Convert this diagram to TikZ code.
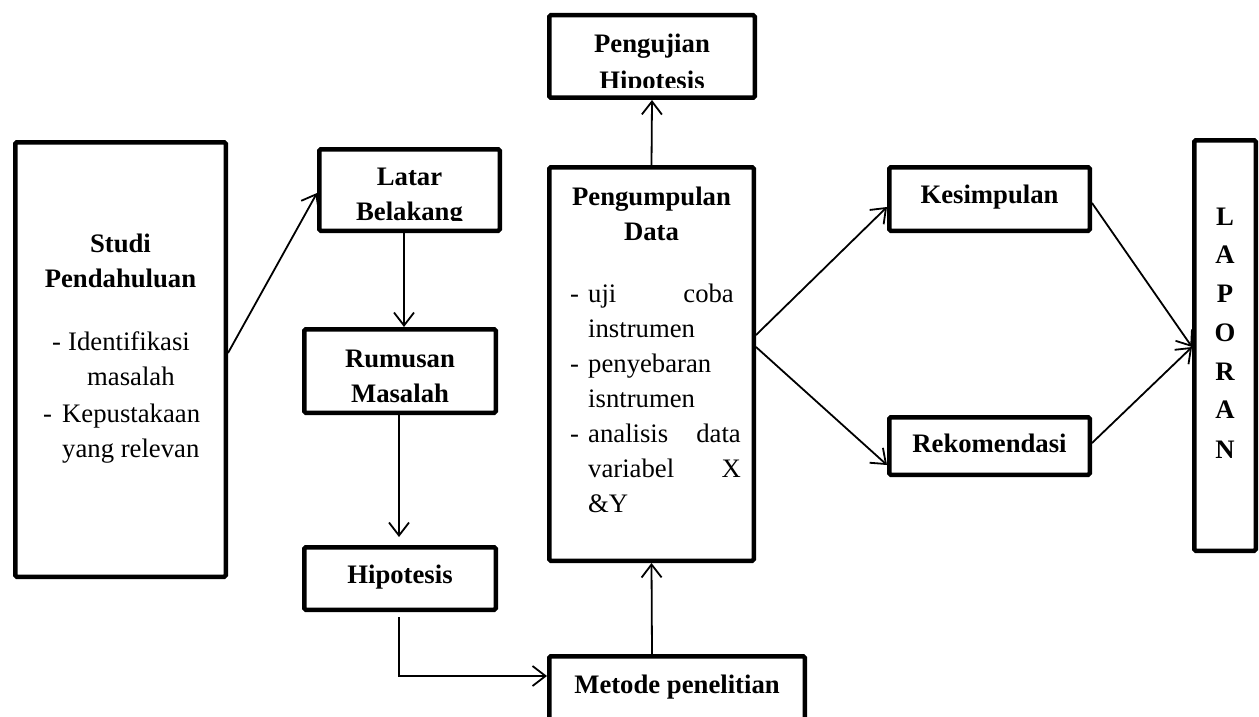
\documentclass[tikz,border=0pt]{standalone}
\usepackage{fontspec}
\setmainfont{Liberation Serif}
\usetikzlibrary{arrows.meta}
\newcommand\dgfont{\fontsize{26.7}{35}\selectfont}
\tikzset{
  box/.style={draw, line width=4.5pt, rounded corners=1.5pt, inner sep=0pt},
  arr/.style={-{Straight Barb[length=13pt,width=20pt]}, line width=1.8pt},
  txt/.style={inner sep=0pt, anchor=base, font=\dgfont},
  txtb/.style={inner sep=0pt, anchor=base, font=\dgfont\bfseries},
  txtw/.style={inner sep=0pt, anchor=base west, font=\dgfont},
  txte/.style={inner sep=0pt, anchor=base east, font=\dgfont},
}
\begin{document}
\begin{tikzpicture}[x=1pt,y=-1pt]
\useasboundingbox (0,0) rectangle (1259,717);
\clip (0,0) rectangle (1259,717);

% boxes
\node[box, minimum width=210.5pt, minimum height=434.5pt] (studi) at (120.5,359.5) {};
\node[box, minimum width=180.5pt, minimum height=81.5pt] (latar) at (409.5,190) {};
\node[box, minimum width=191.5pt, minimum height=83.5pt] (rumusan) at (400,371) {};
\node[box, minimum width=191.5pt, minimum height=62.5pt] (hip) at (400,578.5) {};
\node[box, minimum width=205.5pt, minimum height=82.5pt] (uji) at (652,56.5) {};
\node[box, minimum width=204.5pt, minimum height=393.5pt] (kumpul) at (651.5,364) {};
\node[box, minimum width=255.5pt, minimum height=101.5pt] (metode) at (677,707) {};
\node[box, minimum width=200.5pt, minimum height=63.5pt] (kes) at (989.5,199) {};
\node[box, minimum width=200.5pt, minimum height=57.5pt] (rek) at (989.5,446) {};
\node[box, minimum width=61.5pt, minimum height=410.5pt] (lap) at (1225,345.5) {};

% texts: Studi Pendahuluan
\node[txtb] (t1) at (120.5,252) {Studi};
\node[txtb] (t2) at (120.5,287) {Pendahuluan};
\node[txtw] (t3) at (52,350) {-};
\node[txtw] (t4) at (68,350) {Identifikasi};
\node[txtw] (t5) at (87,385) {masalah};
\node[txtw] (t6) at (43,422) {-};
\node[txtw] (t7) at (62,422) {Kepustakaan};
\node[txtw] (t8) at (62,457) {yang relevan};

% Latar Belakang
\node[txtb] (t9) at (409.5,185) {Latar};
\begin{scope}
  \clip (310,190) rectangle (510,220.5);
  \node[txtb] (t10) at (409.5,220) {Belakang};
\end{scope}

% Rumusan Masalah
\node[txtb] (t11) at (400,367) {Rumusan};
\node[txtb] (t12) at (400,402) {Masalah};

% Hipotesis
\node[txtb] (t13) at (400,583) {Hipotesis};

% Pengujian Hipotesis
\node[txtb] (t14) at (652,53) {Pengujian};
\begin{scope}
  \clip (550,60) rectangle (755,87.5);
  \node[txtb] (t15) at (652,89) {Hipotesis};
\end{scope}

% Pengumpulan Data
\node[txtb] (t16) at (651.5,205) {Pengumpulan};
\node[txtb] (t17) at (651.5,240) {Data};
\node[txtw] (t18) at (570,302) {-};
\node[txtw] (t19) at (588,302) {uji};
\node[txte] (t20) at (734,302) {coba};
\node[txtw] (t21) at (588,337) {instrumen};
\node[txtw] (t22) at (570,372) {-};
\node[txtw] (t23) at (588,372) {penyebaran};
\node[txtw] (t24) at (588,407) {isntrumen};
\node[txtw] (t25) at (570,442) {-};
\node[txtw] (t26) at (588,442) {analisis};
\node[txte] (t27) at (741,442) {data};
\node[txtw] (t28) at (588,477) {variabel};
\node[txte] (t29) at (741,477) {X};
\node[txtw] (t30) at (588,512) {\&Y};

% Metode penelitian
\node[txtb] (t31) at (677,693) {Metode penelitian};

% Kesimpulan, Rekomendasi
\node[txtb] (t32) at (989.5,203) {Kesimpulan};
\node[txtb] (t33) at (989.5,452) {Rekomendasi};

% LAPORAN
\node[txtb] (l1) at (1225,225) {L};
\node[txtb] (l2) at (1225,263) {A};
\node[txtb] (l3) at (1225,302) {P};
\node[txtb] (l4) at (1225,341) {O};
\node[txtb] (l5) at (1225,380) {R};
\node[txtb] (l6) at (1225,418) {A};
\node[txtb] (l7) at (1225,458) {N};

% connectors
\draw[arr] ([yshift=6.5pt]studi.east) -- ([yshift=-3pt]latar.west);
\draw[arr] ([xshift=-5.5pt]latar.south) -- ([xshift=4pt]rumusan.north);
\draw[arr, shorten >=8pt] ([xshift=-1pt]rumusan.south) -- ([xshift=-1pt]hip.north);
\draw[arr] ([xshift=-1pt,yshift=-5pt]hip.south) |- ([yshift=31pt]metode.west);
\draw[arr] ([xshift=-25pt]metode.north) -- (kumpul.south);
\draw[arr] (kumpul.north) -- (uji.south);
\draw[arr] ([yshift=29pt]kumpul.east) -- ([yshift=-8pt]kes.west);
\draw[arr] ([yshift=17pt]kumpul.east) -- ([yshift=-19pt]rek.west);
\draw[arr] ([yshift=-4pt]kes.east) -- ([yshift=-1.5pt]lap.west);
\draw[arr] ([yshift=3pt]rek.east) -- ([yshift=-1.5pt]lap.west);
\end{tikzpicture}
\end{document}
